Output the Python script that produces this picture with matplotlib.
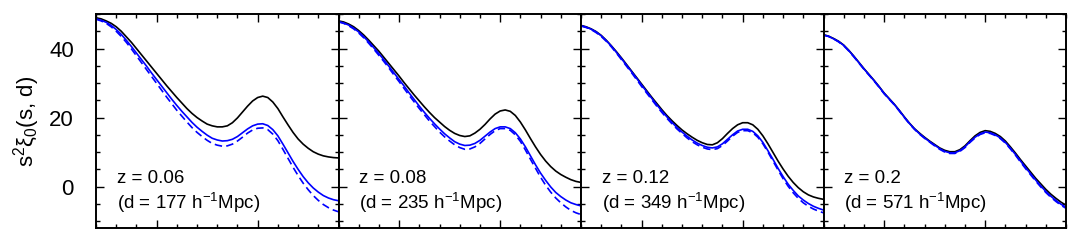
import matplotlib
matplotlib.use("Agg")
import matplotlib.pyplot as plt
from matplotlib.ticker import MultipleLocator, NullFormatter

plt.rcParams['font.family'] = ['Liberation Sans', 'DejaVu Sans']
plt.rcParams['mathtext.fontset'] = 'custom'
plt.rcParams['mathtext.rm'] = 'Liberation Sans'
plt.rcParams['mathtext.it'] = 'Liberation Sans'
plt.rcParams['mathtext.bf'] = 'Liberation Sans:bold'

# separation s (h^-1 Mpc)
s = [20, 22.5, 25, 27.5, 30, 32.5, 35, 37.5, 40, 42.5, 45, 47.5, 50, 52.5, 55, 57.5,
     60, 62.5, 65, 67.5, 70, 72.5, 75, 77.5, 80, 82.5, 85, 87.5, 90, 92.5, 95, 97.5,
     100, 102.5, 105, 107.5, 110, 112.5, 115, 117.5, 120, 122.5, 125, 127.5, 130,
     132.5, 135, 137.5, 140]

z_labels = ["z = 0.06", "z = 0.08", "z = 0.12", "z = 0.2"]
d_labels = ["177", "235", "349", "571"]

black_1 = [48.9, 48.6, 48.0, 47.3, 46.3, 45.0, 43.4, 41.8, 40.0, 38.2, 36.4, 34.6, 32.8, 31.0, 29.2, 27.5,
           25.8, 24.2, 22.6, 21.2, 20.0, 19.0, 18.1, 17.6, 17.3, 17.3, 17.6, 18.5, 19.9, 21.6, 23.3, 24.8,
           25.8, 26.2, 25.8, 24.5, 22.6, 20.2, 17.9, 15.7, 13.8, 12.3, 11.1, 10.1, 9.4, 8.9, 8.6, 8.4, 8.3]
blue_1 = [48.6, 48.2, 47.6, 46.7, 45.5, 44.1, 42.4, 40.6, 38.7, 36.8, 34.9, 32.9, 31.0, 29.1, 27.2, 25.3,
          23.5, 21.8, 20.2, 18.6, 17.2, 16.0, 14.9, 14.0, 13.5, 13.2, 13.3, 13.7, 14.5, 15.6, 16.7, 17.6,
          18.1, 18.2, 17.7, 16.5, 14.7, 12.3, 9.8, 7.3, 5.0, 2.9, 1.1, -0.4, -1.6, -2.6, -3.3, -3.8, -4.1]
dash_1 = [48.5, 48.0, 47.3, 46.3, 45.0, 43.5, 41.8, 39.9, 37.9, 35.9, 33.9, 31.9, 29.9, 27.9, 25.9, 24.0,
          22.1, 20.4, 18.7, 17.1, 15.7, 14.5, 13.4, 12.5, 12.0, 11.7, 11.8, 12.3, 13.2, 14.3, 15.5, 16.4,
          16.9, 17.0, 16.5, 15.2, 13.3, 10.8, 8.2, 5.6, 3.2, 1.0, -0.9, -2.6, -4.0, -5.2, -6.1, -6.8, -7.3]

black_2 = [48.0, 47.7, 47.1, 46.3, 45.2, 43.9, 42.4, 40.8, 39.2, 37.4, 35.6, 33.8, 32.0, 30.1, 28.3, 26.5,
           24.8, 23.1, 21.5, 20.0, 18.7, 17.4, 16.3, 15.4, 14.8, 14.5, 14.7, 15.5, 16.6, 18.0, 19.6, 21.0,
           21.9, 22.2, 21.8, 20.6, 18.7, 16.4, 13.9, 11.5, 9.3, 7.4, 5.8, 4.5, 3.5, 2.7, 2.0, 1.5, 1.2]
blue_2 = [47.8, 47.4, 46.8, 45.9, 44.8, 43.4, 41.9, 40.2, 38.5, 36.7, 34.8, 32.9, 31.0, 29.1, 27.1, 25.2,
          23.3, 21.5, 19.8, 18.2, 16.7, 15.3, 14.1, 13.0, 12.3, 11.9, 12.0, 12.5, 13.4, 14.6, 15.8, 16.8,
          17.3, 17.3, 16.8, 15.6, 13.8, 11.5, 8.9, 6.3, 3.9, 1.8, -0.1, -1.7, -2.9, -3.9, -4.7, -5.2, -5.6]
dash_2 = [47.7, 47.3, 46.6, 45.7, 44.5, 43.1, 41.5, 39.8, 38.0, 36.2, 34.3, 32.3, 30.4, 28.4, 26.4, 24.5,
          22.6, 20.8, 19.0, 17.4, 15.8, 14.4, 13.2, 12.1, 11.3, 10.8, 10.9, 11.5, 12.5, 13.8, 15.1, 16.2,
          16.8, 16.8, 16.3, 15.0, 13.1, 10.6, 7.9, 5.3, 2.7, 0.4, -1.6, -3.3, -4.7, -5.9, -6.9, -7.6, -8.1]

black_3 = [46.7, 46.3, 45.7, 44.9, 43.8, 42.4, 40.8, 39.1, 37.3, 35.4, 33.5, 31.6, 29.7, 27.8, 25.9, 24.1,
           22.3, 20.6, 19.1, 17.7, 16.4, 15.3, 14.3, 13.4, 12.7, 12.2, 12.1, 12.7, 13.9, 15.4, 16.8, 17.9,
           18.5, 18.5, 17.9, 16.6, 14.7, 12.4, 9.9, 7.4, 5.1, 3.0, 1.2, -0.3, -1.5, -2.4, -3.0, -3.4, -3.7]
blue_3 = [46.6, 46.2, 45.6, 44.8, 43.7, 42.3, 40.7, 38.9, 37.1, 35.2, 33.3, 31.4, 29.4, 27.5, 25.6, 23.7,
          21.9, 20.2, 18.6, 17.1, 15.8, 14.6, 13.5, 12.6, 11.9, 11.4, 11.2, 11.5, 12.4, 13.7, 15.0, 16.1,
          16.6, 16.6, 16.0, 14.7, 12.8, 10.4, 7.9, 5.3, 2.9, 0.7, -1.1, -2.7, -3.9, -4.9, -5.7, -6.3, -6.8]
dash_3 = [46.5, 46.1, 45.5, 44.6, 43.5, 42.1, 40.5, 38.7, 36.8, 34.9, 33.0, 31.0, 29.0, 27.1, 25.2, 23.3,
          21.5, 19.8, 18.2, 16.7, 15.4, 14.1, 13.0, 12.1, 11.4, 10.9, 10.7, 11.0, 11.9, 13.2, 14.6, 15.7,
          16.2, 16.2, 15.6, 14.3, 12.4, 10.0, 7.4, 4.8, 2.3, 0.1, -1.8, -3.4, -4.7, -5.7, -6.5, -7.1, -7.6]

black_4 = [44.0, 43.6, 42.9, 42.1, 41.0, 39.5, 37.8, 36.0, 34.2, 32.5, 30.8, 29.0, 27.1, 25.5, 23.9, 22.1,
           20.2, 18.4, 16.8, 15.5, 14.3, 13.2, 12.2, 11.2, 10.5, 10.1, 10.1, 10.7, 11.8, 13.3, 14.7, 15.7,
           16.2, 16.0, 15.4, 14.5, 13.2, 11.5, 9.7, 7.8, 6.0, 4.2, 2.4, 0.8, -0.8, -2.2, -3.4, -4.5, -5.4]
blue_4 = [43.9, 43.5, 42.8, 42.0, 40.9, 39.4, 37.7, 35.9, 34.1, 32.4, 30.7, 28.9, 27.0, 25.4, 23.8, 22.0,
          20.1, 18.3, 16.7, 15.3, 14.1, 13.0, 12.0, 11.0, 10.2, 9.8, 9.8, 10.4, 11.5, 13.0, 14.3, 15.3,
          15.8, 15.6, 15.0, 14.1, 12.8, 11.1, 9.3, 7.4, 5.5, 3.7, 1.9, 0.2, -1.4, -2.8, -4.0, -5.1, -6.0]
dash_4 = [43.9, 43.5, 42.8, 41.9, 40.8, 39.3, 37.6, 35.8, 34.0, 32.3, 30.6, 28.8, 26.9, 25.3, 23.7, 21.9,
          20.0, 18.2, 16.6, 15.2, 14.0, 12.9, 11.8, 10.8, 10.0, 9.6, 9.6, 10.2, 11.3, 12.8, 14.1, 15.1,
          15.6, 15.4, 14.8, 13.9, 12.6, 10.9, 9.1, 7.1, 5.2, 3.4, 1.6, -0.1, -1.7, -3.1, -4.3, -5.4, -6.3]

blacks = [black_1, black_2, black_3, black_4]
blues = [blue_1, blue_2, blue_3, blue_4]
dashes = [dash_1, dash_2, dash_3, dash_4]

W, H = 1079, 242
fig = plt.figure(figsize=(W / 100, H / 100), dpi=100)

left0 = 96
pw = 242.5
top = 14
bot = 228

axes = []
for i in range(4):
    ax = fig.add_axes([(left0 + i * pw) / W, (H - bot) / H, pw / W, (bot - top) / H])
    axes.append(ax)
    ax.plot(s, blacks[i], color='black', lw=1.2, solid_joinstyle='round')
    ax.plot(s, blues[i], color='#0000ff', lw=1.2, solid_joinstyle='round')
    ax.plot(s, dashes[i], color='#0000ff', lw=1.2, ls=(0, (4.5, 2.5)))
    ax.set_xlim(20, 140)
    ax.set_ylim(-12, 50)
    ax.xaxis.set_major_locator(MultipleLocator(50))
    ax.xaxis.set_minor_locator(MultipleLocator(10))
    ax.yaxis.set_major_locator(MultipleLocator(20))
    ax.yaxis.set_minor_locator(MultipleLocator(5))
    ax.tick_params(which='both', direction='in', top=True, right=True, width=1.0)
    ax.tick_params(which='major', length=5.5)
    ax.tick_params(which='minor', length=3)
    ax.xaxis.set_major_formatter(NullFormatter())
    ax.tick_params(axis='y', labelsize=16, pad=16)
    if i > 0:
        ax.tick_params(axis='y', labelleft=False)
    for sp in ax.spines.values():
        sp.set_linewidth(1.4)
    ax.text(0.085, 0.229, z_labels[i], transform=ax.transAxes, fontsize=13.5,
            va='center', ha='left')
    ax.text(0.085, 0.117, r"(d = " + d_labels[i] + r" h$^{-1}$Mpc)", transform=ax.transAxes,
            fontsize=13.5, va='center', ha='left')

axes[0].set_ylabel(r"s$^{2}\xi_{0}$(s, d)", fontsize=16, labelpad=5)

fig.savefig("out.png", dpi=100)
